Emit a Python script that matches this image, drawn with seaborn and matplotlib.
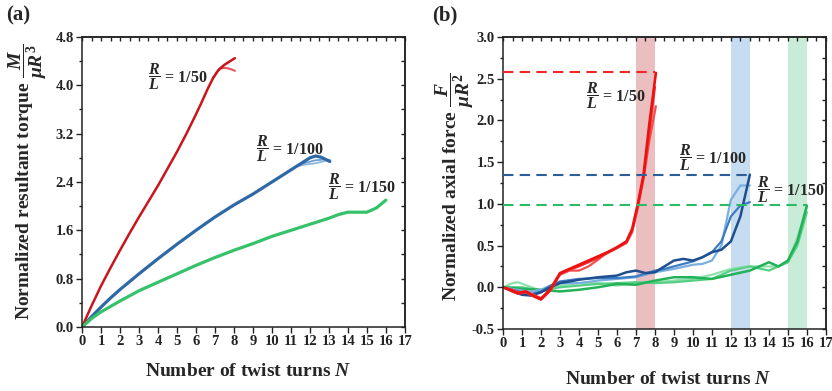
import numpy as np
import pandas as pd
import matplotlib
matplotlib.use("Agg")
import matplotlib.pyplot as plt
import seaborn as sns
from matplotlib.ticker import MultipleLocator, FormatStrFormatter

sns.set_theme(style="white")
plt.rcParams['font.family'] = ['Liberation Serif', 'DejaVu Serif']
plt.rcParams['font.weight'] = 'bold'
plt.rcParams['mathtext.fontset'] = 'custom'
plt.rcParams['mathtext.rm'] = 'Liberation Serif:bold'
plt.rcParams['mathtext.it'] = 'Liberation Serif:bold:italic'
plt.rcParams['mathtext.bf'] = 'Liberation Serif:bold'

# ---------------- Panel (a): normalized resultant torque ----------------
a_red_N = [0, 0.5, 1, 1.5, 2, 2.5, 3, 3.5, 4, 4.5, 5, 5.5, 6, 6.3, 6.6, 6.9, 7.2, 7.5, 7.8, 8.05]
a_red_v = [0, 0.35, 0.68, 0.98, 1.27, 1.55, 1.82, 2.08, 2.34, 2.62, 2.9, 3.2, 3.52, 3.72, 3.93, 4.12, 4.26, 4.34, 4.4, 4.45]
a_red2_N = [6.9, 7.1, 7.3, 7.5, 7.7, 7.9, 8.05]
a_red2_v = [4.12, 4.22, 4.28, 4.29, 4.28, 4.26, 4.24]

a_blue_N = [0, 0.5, 1, 1.5, 2, 3, 4, 5, 6, 7, 8, 9, 10, 11, 11.5, 12, 12.3, 12.6, 13.05]
a_blue_v = [0, 0.17, 0.33, 0.48, 0.62, 0.88, 1.13, 1.37, 1.6, 1.82, 2.02, 2.2, 2.4, 2.6, 2.7, 2.8, 2.83, 2.81, 2.74]
a_blue2_N = [11.3, 11.8, 12.3, 12.7, 13.05]
a_blue2_v = [2.66, 2.72, 2.76, 2.77, 2.76]
a_blue3_N = [11.3, 11.8, 12.3, 12.7, 13.05]
a_blue3_v = [2.66, 2.69, 2.71, 2.74, 2.77]

a_green_N = [0, 0.5, 1, 1.5, 2, 3, 4, 5, 6, 7, 8, 9, 10, 11, 12, 13, 13.5, 14, 14.5, 15, 15.5, 16]
a_green_v = [0, 0.14, 0.25, 0.34, 0.43, 0.6, 0.74, 0.88, 1.02, 1.15, 1.27, 1.38, 1.5, 1.6, 1.7, 1.8, 1.86, 1.9, 1.9, 1.9, 1.97, 2.1]

# ---------------- Panel (b): normalized axial force ----------------
b_red1_N = [0, 0.5, 0.8, 1.2, 1.6, 2.0, 2.5, 3.0, 3.5, 4, 4.5, 5, 5.5, 6, 6.5, 6.8, 7.1, 7.4, 7.7, 8.05]
b_red1_v = [0, -0.04, -0.07, -0.05, -0.1, -0.14, -0.02, 0.17, 0.22, 0.27, 0.32, 0.37, 0.42, 0.48, 0.55, 0.7, 1.0, 1.35, 1.95, 2.57]
b_red2_N = [0, 0.5, 0.8, 1.2, 1.6, 2.0, 2.5, 3.0, 3.5, 4, 4.5, 5, 5.5, 6, 6.5, 6.8, 7.1, 7.4, 7.7, 8.05]
b_red2_v = [0, -0.03, -0.06, -0.05, -0.09, -0.13, -0.03, 0.15, 0.2, 0.2, 0.25, 0.33, 0.42, 0.47, 0.53, 0.66, 0.95, 1.3, 1.75, 2.17]
b_red3_N = [0, 0.5, 0.8, 1.2, 1.6, 2.0, 2.5, 3.0, 3.5, 4, 4.5, 5, 5.5, 6, 6.5, 6.8, 7.1, 7.4, 7.7, 8.0]
b_red3_v = [0, -0.05, -0.08, -0.06, -0.11, -0.15, -0.04, 0.16, 0.21, 0.25, 0.3, 0.35, 0.41, 0.47, 0.54, 0.68, 0.98, 1.32, 1.85, 2.4]

b_blue1_N = [0, 0.5, 1, 1.5, 2, 2.5, 3, 4, 5, 6, 6.5, 7, 7.5, 8, 8.5, 9, 9.5, 10, 10.5, 11, 11.5, 12, 12.5, 13]
b_blue1_v = [0, -0.05, -0.09, -0.1, -0.06, 0.0, 0.05, 0.09, 0.12, 0.14, 0.18, 0.2, 0.17, 0.18, 0.25, 0.32, 0.34, 0.32, 0.36, 0.42, 0.45, 0.55, 0.85, 1.35]
b_blue2_N = [0, 0.5, 1, 1.5, 2, 2.5, 3, 4, 5, 6, 7, 8, 8.5, 9, 9.5, 10, 10.5, 11, 11.5, 12, 12.5, 13]
b_blue2_v = [0, -0.03, -0.06, -0.08, -0.05, 0.02, 0.07, 0.1, 0.11, 0.11, 0.13, 0.2, 0.22, 0.25, 0.28, 0.31, 0.36, 0.42, 0.55, 0.85, 0.98, 1.02]
b_blue3_N = [0, 0.5, 1, 1.5, 2, 2.5, 3, 4, 5, 6, 7, 8, 9, 10, 10.5, 11, 11.5, 12, 12.5, 13]
b_blue3_v = [0, -0.02, -0.04, -0.05, -0.03, 0.02, 0.05, 0.05, 0.08, 0.1, 0.12, 0.18, 0.22, 0.27, 0.28, 0.32, 0.5, 1.05, 1.22, 1.22]

b_green1_N = [0, 1, 2, 3, 4, 5, 6, 7, 8, 9, 10, 11, 12, 13, 13.5, 14, 14.5, 15, 15.5, 16]
b_green1_v = [0, -0.02, -0.03, -0.05, -0.03, 0.0, 0.04, 0.03, 0.08, 0.12, 0.12, 0.1, 0.15, 0.2, 0.25, 0.3, 0.25, 0.32, 0.55, 0.98]
b_green2_N = [0, 0.5, 0.8, 1.5, 2, 3, 4, 5, 6, 7, 8, 9, 10, 11, 12, 12.5, 13, 14, 14.5, 15, 15.5, 16]
b_green2_v = [0, 0.05, 0.06, 0.0, -0.04, 0.02, 0.05, 0.05, 0.02, 0.06, 0.06, 0.08, 0.1, 0.15, 0.22, 0.24, 0.25, 0.25, 0.25, 0.3, 0.6, 0.95]
b_green3_N = [0, 1, 2, 3, 4, 5, 6, 7, 8, 9, 10, 11, 12, 13, 14, 15, 15.5, 16]
b_green3_v = [0, 0.0, -0.04, 0.0, 0.02, 0.04, 0.05, 0.06, 0.05, 0.06, 0.08, 0.1, 0.2, 0.25, 0.2, 0.3, 0.5, 0.9]

b_limits = [2.58, 1.35, 0.99]
b_limit_ends = [8, 13, 16]
b_bands = [(7, 8), (12, 13), (15, 16)]

RED_A = "#c9161d"
BLUE_A = "#2f68a6"
GREEN_A = "#35c26a"
RED_B = "#ee1111"

fig = plt.figure(figsize=(8.32, 3.91), dpi=100)
axA = fig.add_axes([0.0986, 0.1637, 0.388, 0.7417])
axB = fig.add_axes([0.6046, 0.1586, 0.388, 0.7468])


def line(ax, N, v, color, lw=1.8, alpha=1.0):
    df = pd.DataFrame({"N": N, "v": v})
    sns.lineplot(data=df, x="N", y="v", ax=ax, color=color, lw=lw, alpha=alpha,
                 estimator=None, sort=False, legend=False)


# Panel a
line(axA, a_blue2_N, a_blue2_v, "#6b9fd3", 1.3)
line(axA, a_blue3_N, a_blue3_v, "#8db6e0", 1.3)
line(axA, a_blue_N, a_blue_v, BLUE_A, 2.3)
line(axA, a_red2_N, a_red2_v, "#e8545a", 1.5)
line(axA, a_red_N, a_red_v, RED_A, 1.8)
line(axA, a_green_N, a_green_v, GREEN_A, 2.3)

# Panel b
band_cols = ["#e8b3b5", "#bcd6ee", "#bfe9d1"]
for (x0, x1), c in zip(b_bands, band_cols):
    axB.axvspan(x0, x1, color=c, alpha=0.85, lw=0, zorder=0)

line(axB, b_green2_N, b_green2_v, "#8fe0ad", 1.6)
line(axB, b_green3_N, b_green3_v, "#56cf85", 1.6)
line(axB, b_green1_N, b_green1_v, "#22b257", 1.8)
line(axB, b_blue3_N, b_blue3_v, "#7aaee0", 1.6)
line(axB, b_blue2_N, b_blue2_v, "#3c7cc4", 1.6)
line(axB, b_blue1_N, b_blue1_v, "#1f4f8f", 1.8)
line(axB, b_red2_N, b_red2_v, "#f25050", 1.6)
line(axB, b_red3_N, b_red3_v, "#f03030", 1.6)
line(axB, b_red1_N, b_red1_v, RED_B, 1.9)

dash_cols = ["#f02828", "#2d5e98", "#2cbb66"]
for yv, xe, c in zip(b_limits, b_limit_ends, dash_cols):
    axB.plot([0, xe], [yv, yv], color=c, lw=1.5, ls=(0, (5, 3)), zorder=3)

axA.set_xlim(0, 17)
axA.set_ylim(0, 4.8)
axA.yaxis.set_major_locator(MultipleLocator(0.8))
axA.yaxis.set_minor_locator(MultipleLocator(0.4))
axA.yaxis.set_major_formatter(FormatStrFormatter("%.1f"))

axB.set_xlim(0, 17)
axB.set_ylim(-0.5, 3.0)
axB.yaxis.set_major_locator(MultipleLocator(0.5))
axB.yaxis.set_minor_locator(MultipleLocator(0.25))
axB.yaxis.set_major_formatter(FormatStrFormatter("%.1f"))

for ax in (axA, axB):
    ax.xaxis.set_major_locator(MultipleLocator(1))
    ax.set_xlabel("")
    ax.set_ylabel("")
    for s in ax.spines.values():
        s.set_visible(True)
        s.set_color("#222222")
        s.set_linewidth(1.1)
    ax.tick_params(axis="both", which="both", direction="out", colors="#222222",
                   labelsize=10.5, pad=2, top=False, right=False, left=True, bottom=True)
    ax.tick_params(which="major", length=4, width=1)
    ax.tick_params(axis="y", which="minor", length=2.5, width=1)
    ax.tick_params(axis="x", which="minor", bottom=False)
    for lab in ax.get_xticklabels() + ax.get_yticklabels():
        lab.set_fontweight("bold")
    ax.set_facecolor("white")
    # inward ticks on top and right
    sx = ax.secondary_xaxis("top")
    sx.xaxis.set_major_locator(MultipleLocator(1))
    sx.xaxis.set_minor_locator(MultipleLocator(0.5))
    sx.tick_params(which="both", direction="in", labeltop=False, length=3, width=1, colors="#222222")
    sy = ax.secondary_yaxis("right")
    sy.yaxis.set_major_locator(ax.yaxis.get_major_locator())
    sy.yaxis.set_minor_locator(ax.yaxis.get_minor_locator())
    sy.tick_params(which="both", direction="in", labelright=False, length=3, width=1, colors="#222222")
    sy.spines["right"].set_linewidth(1.1)
    sx.spines["top"].set_linewidth(1.1)

# Labels
fig.text(248 / 832, 1 - 372 / 391, r"Number of twist turns $N$", ha="center", va="center",
         fontsize=14, fontweight="bold")
fig.text(668 / 832, 1 - 380 / 391, r"Number of twist turns $N$", ha="center", va="center",
         fontsize=14, fontweight="bold")
fig.text(28 / 832, 1 - 182 / 391, r"Normalized resultant torque $\dfrac{M}{\mu R^3}$",
         rotation=90, ha="center", va="center", fontsize=14, fontweight="bold")
fig.text(455 / 832, 1 - 187 / 391, r"Normalized axial force $\dfrac{F}{\mu R^2}$",
         rotation=90, ha="center", va="center", fontsize=14, fontweight="bold")
fig.text(6 / 832, 1 - 15 / 391, "(a)", ha="left", va="center", fontsize=15, fontweight="bold")
fig.text(432 / 832, 1 - 15 / 391, "(b)", ha="left", va="center", fontsize=15, fontweight="bold")

ann_kw = dict(ha="left", va="center", fontsize=11.5, fontweight="bold", zorder=5)
axA.text(3.45, 4.14, r"$\dfrac{R}{L}$ = 1/50", **ann_kw)
axA.text(9.15, 2.96, r"$\dfrac{R}{L}$ = 1/100", **ann_kw)
axA.text(12.95, 2.32, r"$\dfrac{R}{L}$ = 1/150", **ann_kw)
axB.text(4.35, 2.30, r"$\dfrac{R}{L}$ = 1/50", **ann_kw)
axB.text(9.25, 1.55, r"$\dfrac{R}{L}$ = 1/100", **ann_kw)
axB.text(13.35, 1.17, r"$\dfrac{R}{L}$ = 1/150", **ann_kw)

fig.savefig("out.png", dpi=100, facecolor="white")
